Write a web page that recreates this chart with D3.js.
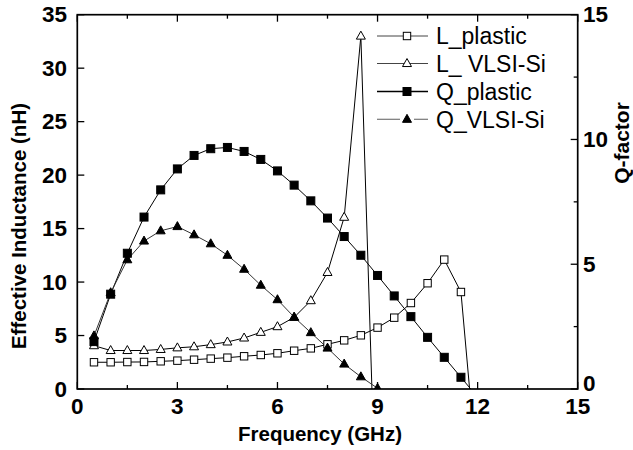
<!DOCTYPE html>
<html><head><meta charset="utf-8">
<script src="https://cdn.jsdelivr.net/npm/d3@7"></script>
<style>body{margin:0;background:#fff}svg{display:block}text{font-family:"Liberation Sans",Arial,sans-serif}</style>
</head><body>
<script>
// ---- data ----
const freqLPlastic = [0.5,1,1.5,2,2.5,3,3.5,4,4.5,5,5.5,6,6.5,7,7.5,8,8.5,9,9.5,10,10.5,11,11.5,12];
const lPlastic     = [2.50,2.50,2.52,2.53,2.59,2.65,2.74,2.84,2.93,3.06,3.18,3.34,3.58,3.80,4.18,4.55,5.02,5.74,6.67,8.04,9.89,12.1,9.07,-8.4];
const freqLVLSI    = [0.5,1,1.5,2,2.5,3,3.5,4,4.5,5,5.5,6,6.5,7,7.5,8,8.5,9];
const lVLSI        = [4.05,3.6,3.6,3.6,3.7,3.85,3.95,4.15,4.4,4.77,5.3,5.83,6.7,8.26,10.9,16.06,33.0,-16.7];
const freqQPlastic = [0.5,1,1.5,2,2.5,3,3.5,4,4.5,5,5.5,6,6.5,7,7.5,8,8.5,9,9.5,10,10.5,11,11.5,12];
const qPlastic     = [1.90,3.80,5.44,6.89,7.98,8.82,9.36,9.63,9.68,9.52,9.20,8.74,8.17,7.54,6.85,6.11,5.36,4.55,3.73,2.90,2.07,1.27,0.47,-0.33];
const freqQVLSI    = [0.5,1,1.5,2,2.5,3,3.5,4,4.5,5,5.5,6,6.5,7,7.5,8,8.5,9];
const qVLSI        = [2.13,3.86,5.18,5.93,6.34,6.51,6.18,5.82,5.36,4.80,4.16,3.58,2.88,2.26,1.64,1.00,0.49,0.03];
const seriesNames  = ["L_plastic","L_ VLSI-Si","Q_plastic","Q_VLSI-Si"];
const xTicks = [0,3,6,9,12,15];
const xMinor = [1.5,4.5,7.5,10.5,13.5];
const yLTicks = [0,5,10,15,20,25,30,35];
const yRTicks = [0,5,10,15];
const yRMinor = [2.5,7.5,12.5];

const W=633,H=450;
const m={l:77.3,r:577.7,t:14.7,b:389};
const x=d3.scaleLinear().domain([0,15]).range([m.l,m.r]);
const yL=d3.scaleLinear().domain([0,35]).range([m.b,m.t]);
const yR=d3.scaleLinear().domain([0,15]).range([m.b,m.t]);

const svg=d3.select("body").append("svg").attr("width",W).attr("height",H);
svg.append("defs").append("clipPath").attr("id","clip").append("rect")
  .attr("x",m.l).attr("y",m.t).attr("width",m.r-m.l).attr("height",m.b-m.t);

const series=[
  {f:freqLPlastic,v:lPlastic,y:yL,shape:"square",fill:"#fff",color:"#000"},
  {f:freqLVLSI,v:lVLSI,y:yL,shape:"triangle",fill:"#fff",color:"#000"},
  {f:freqQPlastic,v:qPlastic,y:yR,shape:"square",fill:"#000",color:"#000"},
  {f:freqQVLSI,v:qVLSI,y:yR,shape:"triangle",fill:"#000",color:"#333"}
];

function marker(g,shape,fill,cx,cy){
  if(shape==="square"){
    const s = fill==="#000"?8:7.4;
    g.append("rect").attr("x",cx-s/2).attr("y",cy-s/2).attr("width",s).attr("height",s)
     .attr("fill",fill).attr("stroke","#000").attr("stroke-width",1);
  } else {
    const w=9,h=8;
    g.append("path").attr("d",`M${cx},${cy-h*0.62}L${cx+w/2},${cy+h*0.38}L${cx-w/2},${cy+h*0.38}Z`)
     .attr("fill",fill).attr("stroke","#000").attr("stroke-width",1);
  }
}

const plot=svg.append("g").attr("clip-path","url(#clip)");
series.forEach(s=>{
  const pts=s.f.map((f,i)=>[f,s.v[i]]);
  plot.append("path").datum(pts)
    .attr("d",d3.line().x(d=>x(d[0])).y(d=>s.y(d[1])))
    .attr("fill","none").attr("stroke",s.color).attr("stroke-width",1);
});
series.forEach(s=>{
  const g=plot.append("g");
  s.f.forEach((f,i)=>{ marker(g,s.shape,s.fill,x(f),s.y(s.v[i])); });
});

// axes
const ax=svg.append("g");
const tl=7, tm=4;
function tk(x1,y1,x2,y2){ax.append("line").attr("x1",x1).attr("y1",y1).attr("x2",x2).attr("y2",y2).attr("stroke","#000").attr("stroke-width",1.3);}
xTicks.forEach(t=>{tk(x(t),m.b,x(t),m.b-tl);tk(x(t),m.t,x(t),m.t+tl);});
xMinor.forEach(t=>{tk(x(t),m.b,x(t),m.b-tm);tk(x(t),m.t,x(t),m.t+tm);});
yLTicks.forEach(t=>tk(m.l,yL(t),m.l+tl,yL(t)));
yRTicks.forEach(t=>tk(m.r,yR(t),m.r-tl,yR(t)));
yRMinor.forEach(t=>tk(m.r,yR(t),m.r-tm,yR(t)));
ax.append("rect").attr("x",m.l).attr("y",m.t).attr("width",m.r-m.l).attr("height",m.b-m.t)
  .attr("fill","none").attr("stroke","#000").attr("stroke-width",1.7);

const tf=22.5;
xTicks.forEach(t=>ax.append("text").attr("x",x(t)).attr("y",414).attr("text-anchor","middle")
  .attr("font-size",tf).attr("font-weight","bold").text(t));
yLTicks.forEach(t=>ax.append("text").attr("x",67).attr("y",yL(t)).attr("dy","0.34em").attr("text-anchor","end")
  .attr("font-size",tf).attr("font-weight","bold").text(t));
yRTicks.forEach(t=>ax.append("text").attr("x",583).attr("y",yR(t)-(t===0?6:0)).attr("dy","0.34em").attr("text-anchor","start")
  .attr("font-size",tf).attr("font-weight","bold").text(t));

ax.append("text").attr("x",320).attr("y",441).attr("text-anchor","middle")
  .attr("font-size",20.5).attr("font-weight","bold").text("Frequency (GHz)");
ax.append("text").attr("transform","translate(26,226) rotate(-90)").attr("text-anchor","middle")
  .attr("font-size",20.5).attr("font-weight","bold").text("Effective Inductance (nH)");
ax.append("text").attr("transform","translate(629,143) rotate(-90)").attr("text-anchor","middle")
  .attr("font-size",21).attr("font-weight","bold").text("Q-factor");

// legend
const leg=svg.append("g");
const rowY=[36,63.5,91.5,119.3];
series.forEach((s,i)=>{
  const yy=rowY[i];
  const lc = i===3?"#777":(i===2?"#000":"#444");
  if(i===3){
    leg.append("line").attr("x1",377).attr("x2",400).attr("y1",yy).attr("y2",yy).attr("stroke",lc).attr("stroke-width",1.2);
    leg.append("line").attr("x1",414).attr("x2",428).attr("y1",yy).attr("y2",yy).attr("stroke",lc).attr("stroke-width",1.2);
  } else {
    leg.append("line").attr("x1",377).attr("x2",428).attr("y1",yy).attr("y2",yy).attr("stroke",lc).attr("stroke-width",i===2?1.3:1);
  }
  marker(leg,s.shape,s.fill,407,yy);
  leg.append("text").attr("x",436).attr("y",yy).attr("dy","0.36em").attr("font-size",23).text(seriesNames[i]);
});
</script>
</body></html>
